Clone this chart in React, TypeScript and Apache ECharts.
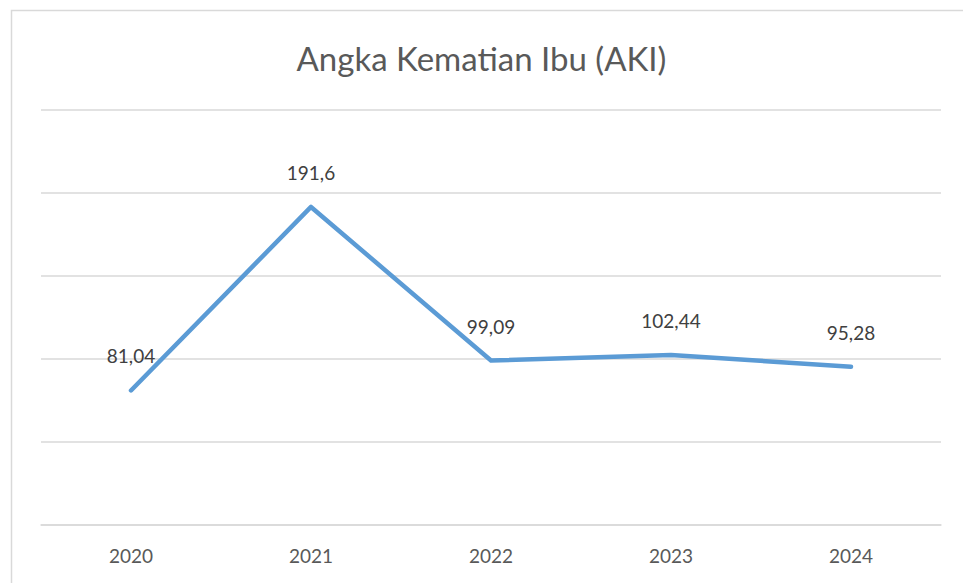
import React, { useEffect, useRef } from "react";
import * as echarts from "echarts";

const categories = ["2020", "2021", "2022", "2023", "2024"];
const values = [81.04, 191.6, 99.09, 102.44, 95.28];
const titleText = "Angka Kematian Ibu (AKI)";

export default function App() {
  const ref = useRef<HTMLDivElement>(null);
  useEffect(() => {
    document.body.style.margin = "0";
    const chart = echarts.init(ref.current!, null, { renderer: "svg" });
    chart.setOption({
      animation: false,
      backgroundColor: "#ffffff",
      title: {
        text: titleText,
        left: "center",
        top: 36,
        textStyle: {
          fontFamily: "Lato",
          fontSize: 33,
          fontWeight: "normal",
          color: "#595959",
        },
      },
      graphic: [
        {
          type: "rect",
          shape: { x: 11.5, y: 10.5, width: 1000, height: 600 },
          style: { fill: "none", stroke: "#d9d9d9", lineWidth: 1.5 },
          z: -1,
        },
      ],
      grid: { left: 41, right: 22, top: 110, bottom: 58 },
      xAxis: {
        type: "category",
        data: categories,
        boundaryGap: true,
        axisLine: { lineStyle: { color: "#d9d9d9", width: 1.5 } },
        axisTick: { show: false },
        axisLabel: {
          margin: 21,
          fontFamily: "Lato",
          fontSize: 19,
          color: "#595959",
        },
      },
      yAxis: {
        type: "value",
        min: 0,
        max: 250,
        interval: 50,
        axisLabel: { show: false },
        axisLine: { show: false },
        axisTick: { show: false },
        splitLine: { lineStyle: { color: "#d9d9d9", width: 1.5 } },
      },
      series: [
        {
          type: "line",
          data: values,
          symbol: "circle",
          symbolSize: 0,
          showSymbol: true,
          lineStyle: { color: "#5b9bd5", width: 4.5, cap: "round", join: "round" },
          itemStyle: { color: "#5b9bd5" },
          label: {
            show: true,
            position: "top",
            distance: 25,
            fontFamily: "Lato",
            fontSize: 19,
            color: "#404040",
            formatter: (p: any) => String(p.value).replace(".", ","),
          },
        },
      ],
    });
    return () => chart.dispose();
  }, []);
  return (
    <div
      ref={ref}
      style={{ position: "fixed", left: 0, top: 0, width: 963, height: 583 }}
    />
  );
}
